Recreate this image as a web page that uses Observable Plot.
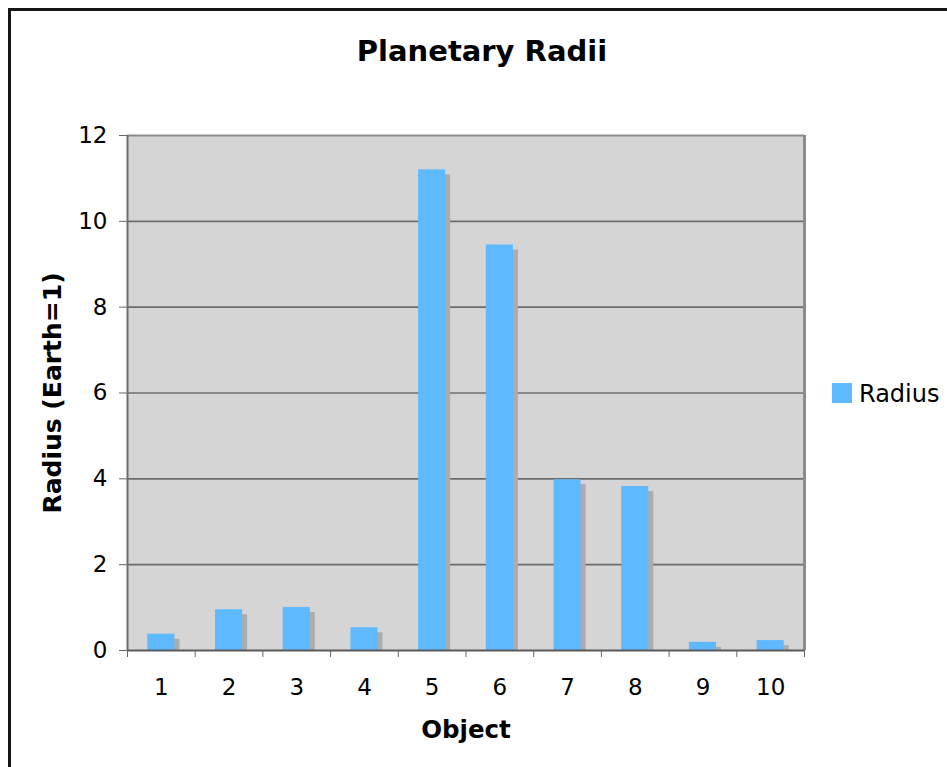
<!DOCTYPE html>
<html>
<head>
<meta charset="utf-8">
<script src="https://cdn.jsdelivr.net/npm/d3@7"></script>
<script src="https://cdn.jsdelivr.net/npm/@observablehq/plot@0.6"></script>
<style>
  html, body { margin: 0; padding: 0; background: #fff; }
  body { width: 947px; height: 767px; overflow: hidden; position: relative; font-family: "DejaVu Sans", sans-serif; }
  #frame { position: absolute; left: 8px; top: 8px; width: 1000px; height: 1000px; border: 3px solid #151515; box-sizing: border-box; }
  #chart { position: absolute; left: 0; top: 0; }
  #title { position: absolute; left: 232px; width: 500px; top: 37px; text-align: center; font-size: 29px; font-weight: bold; line-height: 1; color: #000; }
  #legend { position: absolute; left: 832px; top: 382px; display: flex; align-items: flex-start; }
  #legend .sw { width: 20px; height: 20px; background: #5eb9ff; margin-top: 1px; }
  #legend .lb { margin-left: 7px; font-size: 24px; line-height: 1; color: #000; }
</style>
</head>
<body>
<div id="frame"></div>
<div id="chart"></div>
<div id="title">Planetary Radii</div>
<div id="legend"><div class="sw"></div><div class="lb">Radius</div></div>
<script>
// Data
const objects = [1, 2, 3, 4, 5, 6, 7, 8, 9, 10];
const radius = [0.38, 0.95, 1.0, 0.53, 11.2, 9.45, 3.98, 3.82, 0.19, 0.23];
const yTicks = [0, 2, 4, 6, 8, 10, 12];
const gridValues = [2, 4, 6, 8, 10];
const seriesName = "Radius";

const rows = objects.map((o, i) => ({obj: o, value: radius[i]}));
const boundaries = [objects[0] - 0.5, ...objects.map(o => o + 0.5)];
const half = 0.2; // bar half-width in category units

const barColor = "#5eb9ff";

const chart = Plot.plot({
  width: 947,
  height: 767,
  marginLeft: 127,
  marginRight: 143,
  marginTop: 135,
  marginBottom: 117,
  style: { background: "transparent", fontFamily: "DejaVu Sans, sans-serif", fontSize: "23px", color: "#000", overflow: "visible" },
  x: { type: "linear", domain: [objects[0] - 0.5, objects[objects.length - 1] + 0.5] },
  y: { domain: [0, 12] },
  marks: [
    Plot.frame({ fill: "#d5d5d5", stroke: null }),
    Plot.ruleY(gridValues, { stroke: "#6c6c6c", strokeWidth: 1.6 }),
    Plot.rectY(rows, { x1: d => d.obj - half, x2: d => d.obj + half, y1: 0, y2: "value", fill: "#acacac", dx: 5, dy: 5, insetBottom: 5 }),
    Plot.rectY(rows, { x1: d => d.obj - half, x2: d => d.obj + half, y1: 0, y2: "value", fill: barColor }),
    Plot.ruleY([12], { stroke: "#8c8c8c", strokeWidth: 2 }),
    Plot.ruleX([boundaries[boundaries.length - 1]], { stroke: "#8c8c8c", strokeWidth: 3 }),
    Plot.ruleX([boundaries[0]], { stroke: "#6e6e6e", strokeWidth: 2 }),
    Plot.ruleY([0], { stroke: "#5a5a5a", strokeWidth: 2 }),
    Plot.axisY({ ticks: yTicks, tickSize: 8, tickPadding: 12, stroke: "#666", label: null, fontSize: 23 }),
    Plot.axisY({ ticks: [], label: "Radius (Earth=1)", labelAnchor: "center", labelOffset: 84, labelArrow: false, fontWeight: "bold", fontSize: 25 }),
    Plot.axisX({ ticks: boundaries, tickSize: 7, tickFormat: () => "", stroke: "#666", label: null }),
    Plot.axisX({ ticks: objects, tickSize: 0, tickPadding: 28, tickFormat: d => String(d), label: null, fontSize: 23 }),
    Plot.axisX({ ticks: [], label: "Object", labelAnchor: "center", labelOffset: 87, labelArrow: false, fontWeight: "bold", fontSize: 24.5 })
  ]
});
document.getElementById("chart").appendChild(chart);
</script>
</body>
</html>
